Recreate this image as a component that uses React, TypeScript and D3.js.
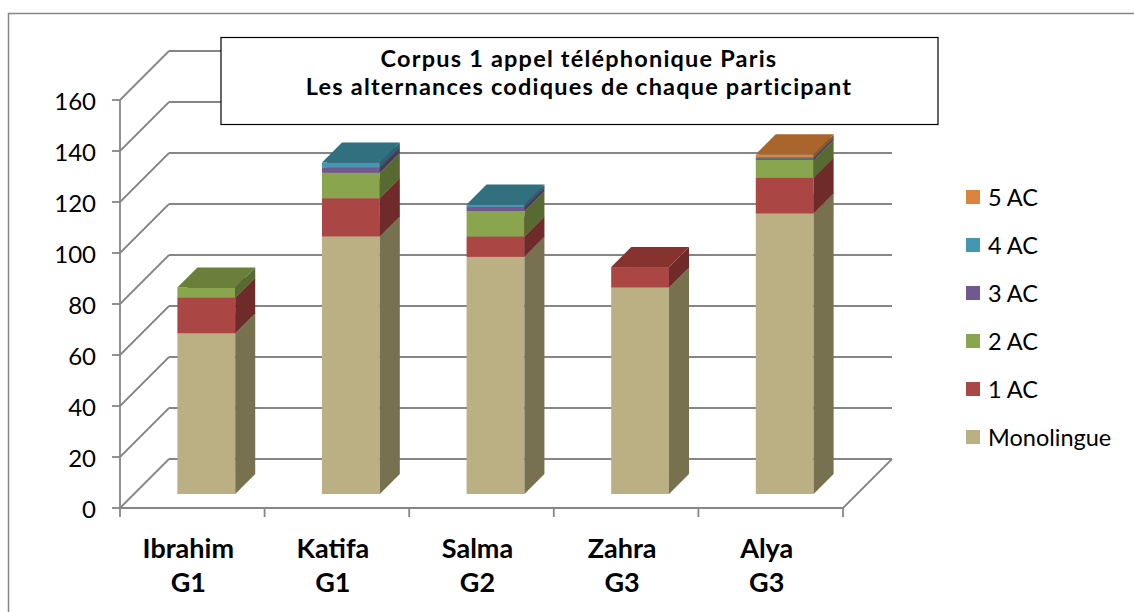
import React, { useEffect, useRef } from "react";
import * as d3 from "d3";

// categories (participant + group)
const participants = ["Ibrahim", "Katifa", "Salma", "Zahra", "Alya"];
const groups = ["G1", "G1", "G2", "G3", "G3"];

// series values, bottom to top of each stack
const monolingue = [63, 101, 93, 81, 110];
const ac1 = [14, 15, 8, 8, 14];
const ac2 = [4, 10, 10, 0, 7];
const ac3 = [0, 2, 1.5, 0, 0.6];
const ac4 = [0, 2, 1, 0, 0.4];
const ac5 = [0, 0, 0, 0, 1.2];

const seriesNames = ["Monolingue", "1 AC", "2 AC", "3 AC", "4 AC", "5 AC"];
const yTicks = [0, 20, 40, 60, 80, 100, 120, 140, 160];

const titleLines = [
  "Corpus 1 appel téléphonique Paris",
  "Les alternances codiques de chaque participant",
];

// front / side / top shades per series
const shades: Record<string, [string, string, string]> = {
  "Monolingue": ["#BBB083", "#77714F", "#9C9469"],
  "1 AC": ["#AA4643", "#6E2B29", "#86332F"],
  "2 AC": ["#89A54E", "#566A32", "#6A7F3A"],
  "3 AC": ["#71588F", "#493859", "#584470"],
  "4 AC": ["#4198AF", "#2A6271", "#31707F"],
  "5 AC": ["#DB843D", "#8E5526", "#A9652C"],
};

const FONT = "Lato, 'Open Sans', sans-serif";
const GRID = "#868686";

const App: React.FC = () => {
  const ref = useRef<SVGSVGElement | null>(null);

  useEffect(() => {
    if (!ref.current) return;
    const svg = d3.select(ref.current);
    svg.selectAll("*").remove();

    const W = 1134, H = 612;
    const left = 120, right = 843, bottom = 508, top = 100;
    const depth = 49; // wall depth (px, 45 degrees)
    const barFront = 14, barDepth = 20;

    const y = d3.scaleLinear().domain([0, 160]).range([bottom, top]);
    const x = d3.scaleBand<string>()
      .domain(participants)
      .range([left, right])
      .paddingInner(0.6)
      .paddingOuter(0.3);
    const cat = d3.scaleBand<string>().domain(participants).range([left, right]);

    svg.append("rect").attr("width", W).attr("height", H).attr("fill", "#fff");

    // outer chart frame (top and left edges visible)
    svg.append("path")
      .attr("d", `M8.5,${H + 5}V13.5H${W + 5}`)
      .attr("fill", "none")
      .attr("stroke", GRID)
      .attr("stroke-width", 1.5);

    const g = svg.append("g");

    // back wall gridlines + left wall diagonals
    yTicks.forEach(t => {
      const yy = y(t);
      g.append("line")
        .attr("x1", left).attr("y1", yy)
        .attr("x2", left + depth).attr("y2", yy - depth)
        .attr("stroke", GRID).attr("stroke-width", 1.8);
      g.append("line")
        .attr("x1", left + depth).attr("y1", yy - depth)
        .attr("x2", right + depth).attr("y2", yy - depth)
        .attr("stroke", GRID).attr("stroke-width", 1.8);
    });
    // floor right edge
    g.append("line")
      .attr("x1", right).attr("y1", bottom)
      .attr("x2", right + depth).attr("y2", bottom - depth)
      .attr("stroke", GRID).attr("stroke-width", 1.8);

    // value axis
    g.append("line")
      .attr("x1", left).attr("y1", top).attr("x2", left).attr("y2", bottom)
      .attr("stroke", GRID).attr("stroke-width", 1.8);
    yTicks.forEach(t => {
      g.append("line")
        .attr("x1", left - 8).attr("y1", y(t)).attr("x2", left).attr("y2", y(t))
        .attr("stroke", GRID).attr("stroke-width", 1.8);
      g.append("text")
        .attr("x", 96).attr("y", y(t))
        .attr("text-anchor", "end")
        .attr("dominant-baseline", "central")
        .attr("font-family", FONT)
        .attr("font-size", 24)
        .attr("fill", "#000")
        .text(t);
    });

    // category axis
    g.append("line")
      .attr("x1", left).attr("y1", bottom).attr("x2", right).attr("y2", bottom)
      .attr("stroke", GRID).attr("stroke-width", 1.8);
    const bounds = participants.map(p => cat(p) as number).concat([right]);
    bounds.forEach(bx => {
      g.append("line")
        .attr("x1", bx).attr("y1", bottom).attr("x2", bx).attr("y2", bottom + 9)
        .attr("stroke", GRID).attr("stroke-width", 1.8);
    });
    participants.forEach((p, i) => {
      const cx = (cat(p) as number) + cat.bandwidth() / 2 - 4;
      const t = g.append("text")
        .attr("text-anchor", "middle")
        .attr("font-family", FONT)
        .attr("font-weight", "bold")
        .attr("font-size", 27)
        .attr("fill", "#000");
      t.append("tspan").attr("x", cx).attr("y", 558).text(p);
      t.append("tspan").attr("x", cx).attr("y", 592).text(groups[i]);
    });

    // stacked 3D bars
    const table = participants.map((p, i) => ({
      name: p,
      "Monolingue": monolingue[i],
      "1 AC": ac1[i],
      "2 AC": ac2[i],
      "3 AC": ac3[i],
      "4 AC": ac4[i],
      "5 AC": ac5[i],
    }));
    const stacked = d3.stack<any>().keys(seriesNames)(table);

    participants.forEach((p, i) => {
      const x0 = (x(p) as number) + barFront;
      const x1 = x0 + x.bandwidth();
      stacked.forEach(layer => {
        const [v0, v1] = layer[i];
        if (v1 - v0 <= 0) return;
        const [front, side, topC] = shades[layer.key];
        const yb = y(v0) - barFront;
        const yt = y(v1) - barFront;
        const d = barDepth;
        g.append("rect")
          .attr("x", x0).attr("y", yt)
          .attr("width", x1 - x0).attr("height", yb - yt)
          .attr("fill", front);
        g.append("path")
          .attr("d", `M${x1},${yb}L${x1},${yt}L${x1 + d},${yt - d}L${x1 + d},${yb - d}Z`)
          .attr("fill", side);
        g.append("path")
          .attr("d", `M${x0},${yt}L${x1},${yt}L${x1 + d},${yt - d}L${x0 + d},${yt - d}Z`)
          .attr("fill", topC);
      });
    });

    // title box
    const tb = svg.append("g");
    tb.append("rect")
      .attr("x", 221).attr("y", 37.5).attr("width", 717).attr("height", 87)
      .attr("fill", "#fff").attr("stroke", "#000").attr("stroke-width", 1.2);
    titleLines.forEach((line, i) => {
      tb.append("text")
        .attr("x", 579).attr("y", 67 + i * 28)
        .attr("text-anchor", "middle")
        .attr("font-family", FONT)
        .attr("font-weight", "bold")
        .attr("font-size", 23.5)
        .attr("letter-spacing", 1.2)
        .attr("fill", "#000")
        .text(line);
    });

    // legend (top to bottom: 5 AC ... Monolingue)
    const legendKeys = seriesNames.slice().reverse();
    const ly = d3.scalePoint<string>().domain(legendKeys).range([197, 437]);
    legendKeys.forEach(k => {
      const cy = ly(k) as number;
      svg.append("rect")
        .attr("x", 966).attr("y", cy - 7).attr("width", 14).attr("height", 14)
        .attr("fill", shades[k][0]);
      svg.append("text")
        .attr("x", 988).attr("y", cy)
        .attr("dominant-baseline", "central")
        .attr("font-family", FONT)
        .attr("font-size", 23.5)
        .attr("fill", "#000")
        .text(k);
    });
  }, []);

  return (
    <svg
      ref={ref}
      width={1134}
      height={612}
      style={{ position: "absolute", left: 0, top: 0, display: "block" }}
    />
  );
};

export default App;
